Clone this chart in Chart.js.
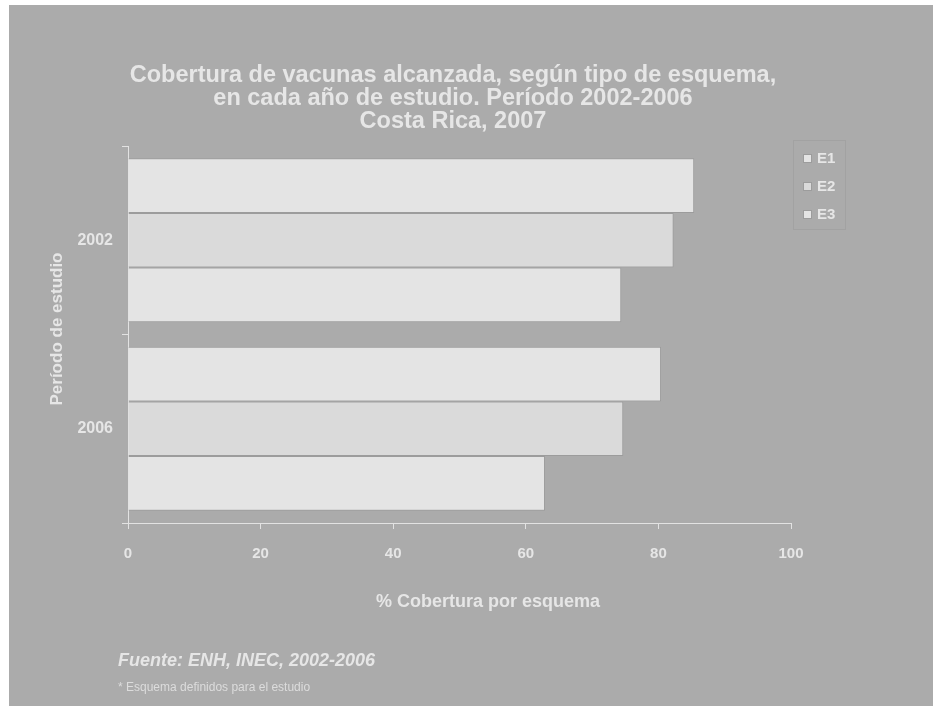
<!DOCTYPE html>
<html>
<head>
<meta charset="utf-8">
<script src="https://cdn.jsdelivr.net/npm/chart.js@4/dist/chart.umd.min.js"></script>
<style>
  html, body { margin: 0; padding: 0; background: #fff; }
  #wrap { position: relative; width: 933px; height: 706px; }
</style>
</head>
<body>
<div id="wrap"><canvas id="chart"></canvas></div>
<script>
// Datos
const periods = ['2002', '2006'];
const seriesNames = ['E1', 'E2', 'E3'];
const e1 = [85.4, 80.4];
const e2 = [82.3, 74.7];
const e3 = [74.4, 62.9];
const xTicks = [0, 20, 40, 60, 80, 100];

const titleLines = [
    'Cobertura de vacunas alcanzada, según tipo de esquema,',
    'en cada año de estudio. Período 2002-2006',
    'Costa Rica, 2007'
];
const xTitle = '% Cobertura por esquema';
const yTitle = 'Período de estudio';
const sourceNote = 'Fuente: ENH, INEC, 2002-2006';
const footNote = '* Esquema definidos para el estudio';

const FONT = "'Liberation Sans', Arial, sans-serif";
const textColor = '#e6e6e6';
const bg = '#ababab';
const barColors = ['#e4e4e4', '#dadada', '#e4e4e4'];
const edge = '#9c9c9c';

// fondo, titulos, leyenda y notas
const decor = {
    id: 'decor',
    beforeDraw(chart) {
        const c = chart.ctx;
        c.save();
        c.fillStyle = '#fff';
        c.fillRect(0, 0, chart.width, chart.height);
        c.fillStyle = bg;
        c.fillRect(9, 5, chart.width - 9, chart.height - 5);
        c.restore();
    },
    afterDraw(chart) {
        const c = chart.ctx;
        c.save();
        c.fillStyle = textColor;
        c.textAlign = 'center';
        c.textBaseline = 'middle';
        c.font = 'bold 23.5px ' + FONT;
        titleLines.forEach((t, i) => c.fillText(t, 453, 76 + i * 23));

        // titulos de ejes
        c.font = 'bold 18px ' + FONT;
        c.fillText(xTitle, 488, 602);
        c.save();
        c.translate(57, 329);
        c.rotate(-Math.PI / 2);
        c.font = 'bold 17px ' + FONT;
        c.fillText(yTitle, 0, 0);
        c.restore();

        // leyenda
        c.strokeStyle = '#a2a2a2';
        c.lineWidth = 1;
        c.strokeRect(793.5, 140.5, 52, 89);
        c.textAlign = 'left';
        c.font = 'bold 15px ' + FONT;
        chart.data.datasets.forEach((ds, i) => {
            const y = 158 + i * 28;
            c.fillStyle = ds.backgroundColor;
            c.fillRect(803, y - 4, 8, 8);
            c.strokeStyle = edge;
            c.strokeRect(803.5, y - 3.5, 8, 8);
            c.fillStyle = textColor;
            c.fillText(ds.label, 817, y + 1);
        });

        // notas
        c.font = 'italic bold 18px ' + FONT;
        c.fillStyle = textColor;
        c.fillText(sourceNote, 118, 661);
        c.font = '12px ' + FONT;
        c.fillStyle = '#dcdcdc';
        c.fillText(footNote, 118, 688);
        c.restore();
    }
};

const datasets = [e1, e2, e3].map((vals, i) => ({
    label: seriesNames[i],
    data: vals,
    backgroundColor: barColors[i],
    borderColor: edge,
    borderWidth: 1,
    categoryPercentage: 0.87,
    barPercentage: 1
}));

new Chart(document.getElementById('chart'), {
    type: 'bar',
    data: { labels: periods, datasets },
    options: {
        indexAxis: 'y',
        responsive: true,
        maintainAspectRatio: false,
        animation: false,
        layout: { padding: { left: 0, right: 142, top: 146, bottom: 0 } },
        plugins: {
            legend: { display: false },
            title: { display: false },
            tooltip: { enabled: false }
        },
        scales: {
            x: {
                min: 0,
                max: 100,
                afterFit: s => { s.height = 183; },
                afterBuildTicks: s => { s.ticks = xTicks.map(v => ({ value: v })); },
                border: { color: '#e2e2e2', width: 1 },
                grid: { drawOnChartArea: false, drawTicks: true, tickLength: 6, color: '#e2e2e2' },
                ticks: { color: textColor, padding: 16, font: { family: FONT, size: 15, weight: 'bold' } }
            },
            y: {
                afterFit: s => { s.width = 128; },
                border: { color: '#e2e2e2', width: 1 },
                grid: { drawOnChartArea: false, drawTicks: true, tickLength: 6, color: '#e2e2e2' },
                ticks: { color: textColor, padding: 9, font: { family: FONT, size: 16, weight: 'bold' } }
            }
        }
    },
    plugins: [decor]
});
</script>
</body>
</html>
